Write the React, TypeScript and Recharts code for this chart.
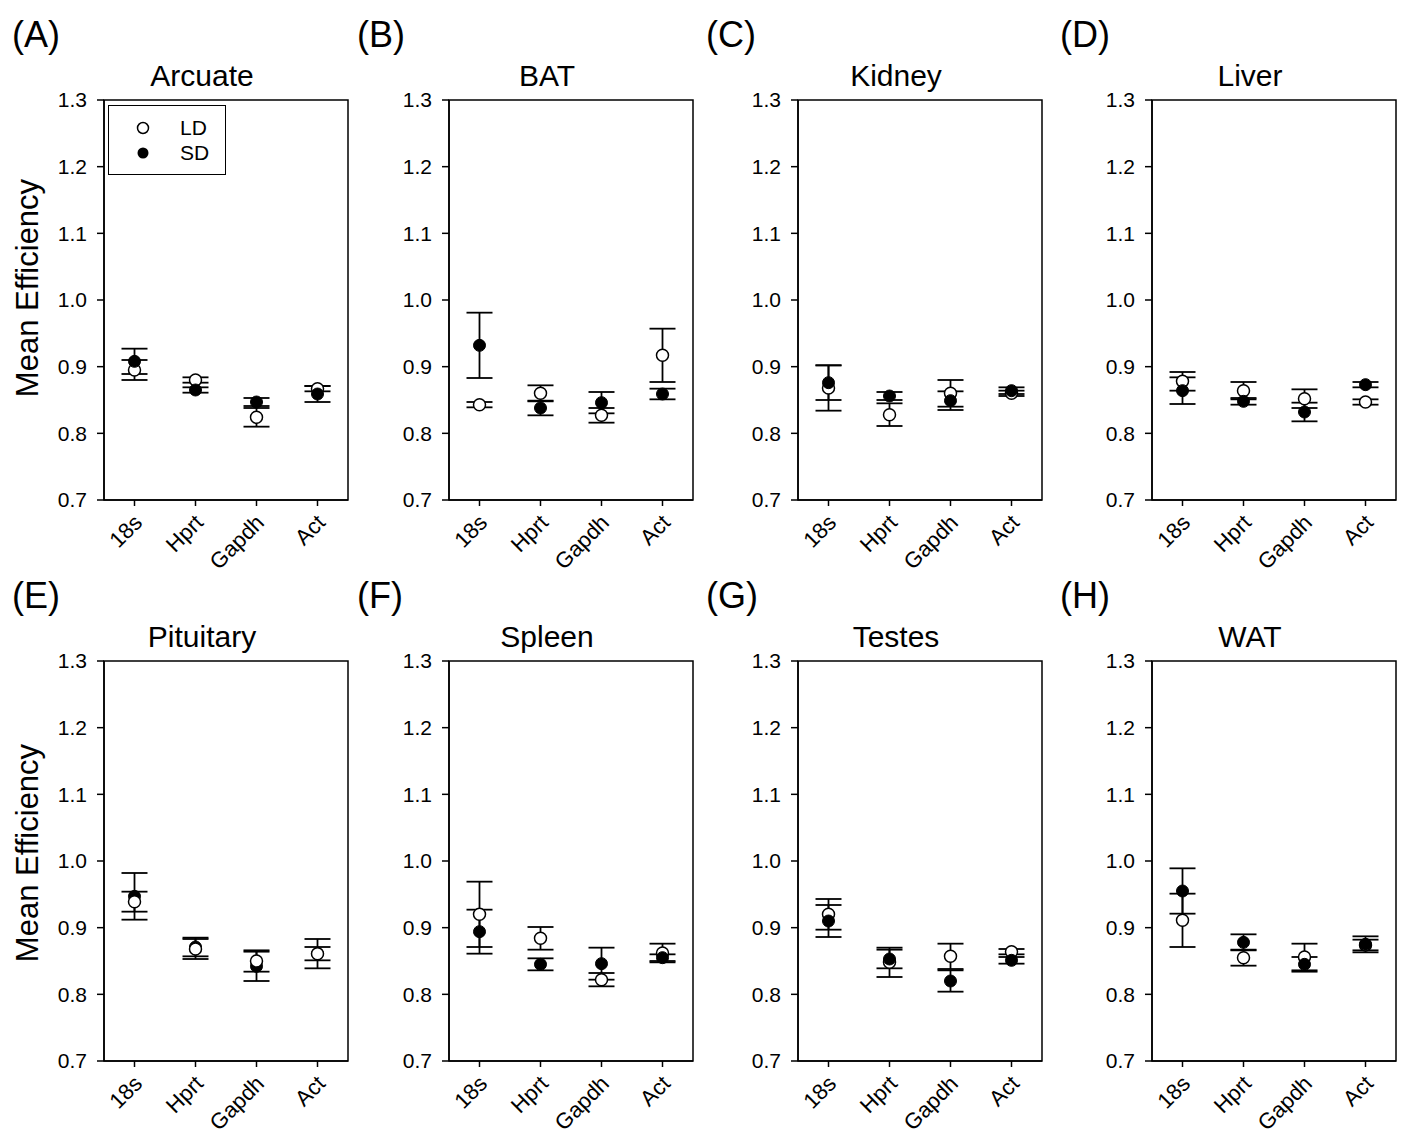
import React from "react";
import {
  ScatterChart,
  Scatter,
  XAxis,
  YAxis,
  ErrorBar,
  ReferenceArea,
} from "recharts";

const genes = ["18s", "Hprt", "Gapdh", "Act"];
const yTicks = [0.7, 0.8, 0.9, 1.0, 1.1, 1.2, 1.3];

// LD = open circles, SD = filled circles
const arcuateLD = [0.895, 0.88, 0.824, 0.867];
const arcuateLDErr = [0.015, 0.004, 0.014, 0.004];
const arcuateSD = [0.908, 0.865, 0.847, 0.859];
const arcuateSDErr = [0.019, 0.004, 0.006, 0.012];

const batLD = [0.843, 0.86, 0.827, 0.917];
const batLDErr = [0.004, 0.012, 0.011, 0.04];
const batSD = [0.932, 0.838, 0.846, 0.859];
const batSDErr = [0.049, 0.011, 0.016, 0.008];

const kidneyLD = [0.868, 0.828, 0.86, 0.86];
const kidneyLDErr = [0.034, 0.017, 0.02, 0.004];
const kidneySD = [0.876, 0.856, 0.849, 0.864];
const kidneySDErr = [0.026, 0.006, 0.014, 0.005];

const liverLD = [0.878, 0.864, 0.852, 0.847];
const liverLDErr = [0.014, 0.013, 0.014, 0.004];
const liverSD = [0.864, 0.848, 0.832, 0.873];
const liverSDErr = [0.02, 0.005, 0.014, 0.004];

const pituitaryLD = [0.939, 0.868, 0.85, 0.861];
const pituitaryLDErr = [0.015, 0.015, 0.016, 0.022];
const pituitarySD = [0.947, 0.871, 0.842, 0.861];
const pituitarySDErr = [0.035, 0.014, 0.022, 0.01];

const spleenLD = [0.92, 0.884, 0.822, 0.862];
const spleenLDErr = [0.049, 0.017, 0.01, 0.014];
const spleenSD = [0.894, 0.845, 0.846, 0.855];
const spleenSDErr = [0.033, 0.009, 0.024, 0.005];

const testesLD = [0.92, 0.848, 0.857, 0.864];
const testesLDErr = [0.023, 0.022, 0.019, 0.004];
const testesSD = [0.91, 0.853, 0.82, 0.851];
const testesSDErr = [0.024, 0.014, 0.016, 0.005];

const watLD = [0.911, 0.855, 0.856, 0.874];
const watLDErr = [0.04, 0.012, 0.02, 0.008];
const watSD = [0.955, 0.878, 0.845, 0.875];
const watSDErr = [0.034, 0.012, 0.011, 0.012];

const FONT = "Arial, 'Liberation Sans', sans-serif";
const PLOT_W = 244;
const PLOT_H = 400;
const X_AXIS_H = 75;

const toPoints = (vals: number[], errs: number[]) =>
  vals.map((v, i) => ({ x: i + 1, y: v, err: errs[i] }));

const openDot = (p: any) => (
  <circle cx={p.cx} cy={p.cy} r={6} fill="#fff" stroke="#000" strokeWidth={1.5} />
);
const filledDot = (p: any) => (
  <circle cx={p.cx} cy={p.cy} r={6} fill="#000" stroke="#000" strokeWidth={1} />
);

const GeneTick = (props: any) => {
  const { x, y, payload } = props;
  const ax = x + 9;
  const ay = y + 16;
  return (
    <text
      x={ax}
      y={ay}
      textAnchor="end"
      fontSize={22}
      fontFamily={FONT}
      fill="#000"
      transform={`rotate(-45, ${ax}, ${ay})`}
    >
      {genes[payload.value - 1]}
    </text>
  );
};

interface PanelProps {
  letter: string;
  title: string;
  plotLeft: number;
  rowTop: number;
  ld: number[];
  ldErr: number[];
  sd: number[];
  sdErr: number[];
  ldOnTop?: boolean;
}

const Panel: React.FC<PanelProps> = ({
  letter,
  title,
  plotLeft,
  rowTop,
  ld,
  ldErr,
  sd,
  sdErr,
  ldOnTop,
}) => {
  const ldSeries = (
    <Scatter
      key="ld"
      name="LD"
      data={toPoints(ld, ldErr)}
      shape={openDot}
      isAnimationActive={false}
    >
      <ErrorBar dataKey="err" direction="y" width={13} stroke="#000" strokeWidth={1.8} isAnimationActive={false} />
    </Scatter>
  );
  const sdSeries = (
    <Scatter
      key="sd"
      name="SD"
      data={toPoints(sd, sdErr)}
      shape={filledDot}
      isAnimationActive={false}
    >
      <ErrorBar dataKey="err" direction="y" width={13} stroke="#000" strokeWidth={1.8} isAnimationActive={false} />
    </Scatter>
  );
  return (
    <>
      <div
        style={{
          position: "absolute",
          left: plotLeft - 92,
          top: rowTop + 12,
          fontSize: 36,
          fontFamily: FONT,
          lineHeight: "46px",
        }}
      >
        {letter}
      </div>
      <div
        style={{
          position: "absolute",
          left: plotLeft + 98 - 100,
          width: 200,
          textAlign: "center",
          top: rowTop + 58,
          fontSize: 30,
          fontFamily: FONT,
          lineHeight: "36px",
        }}
      >
        {title}
      </div>
      <div style={{ position: "absolute", left: plotLeft - 80, top: rowTop }}>
        <ScatterChart
          width={80 + PLOT_W + 10}
          height={100 + PLOT_H + X_AXIS_H}
          margin={{ top: 100, left: 10, right: 10, bottom: 0 }}
          style={{ overflow: "visible" }}
        >
          <XAxis
            type="number"
            dataKey="x"
            domain={[0.5, 4.5]}
            ticks={[1, 2, 3, 4]}
            allowDataOverflow
            height={X_AXIS_H}
            tickSize={6}
            tick={<GeneTick />}
            axisLine={{ stroke: "#000", strokeWidth: 1.5 }}
            tickLine={{ stroke: "#000", strokeWidth: 1.5 }}
          />
          <YAxis
            type="number"
            dataKey="y"
            domain={[0.7, 1.3]}
            ticks={yTicks}
            allowDataOverflow
            width={70}
            tickSize={7}
            tickMargin={10}
            tickFormatter={(v: number) => v.toFixed(1)}
            tick={{ fill: "#000", fontSize: 21, fontFamily: FONT }}
            axisLine={{ stroke: "#000", strokeWidth: 1.5 }}
            tickLine={{ stroke: "#000", strokeWidth: 1.5 }}
          />
          <ReferenceArea
            x1={0.5}
            x2={4.5}
            y1={0.7}
            y2={1.3}
            fill="none"
            fillOpacity={0}
            stroke="#000"
            strokeWidth={1.5}
          />
          {ldOnTop ? [sdSeries, ldSeries] : [ldSeries, sdSeries]}
        </ScatterChart>
      </div>
    </>
  );
};

const YLabel: React.FC<{ cy: number }> = ({ cy }) => (
  <div
    style={{
      position: "absolute",
      left: 28 - 150,
      top: cy - 18,
      width: 300,
      textAlign: "center",
      fontSize: 31,
      fontFamily: FONT,
      lineHeight: "36px",
      transform: "rotate(-90deg)",
    }}
  >
    Mean Efficiency
  </div>
);

const Legend: React.FC = () => (
  <div
    style={{
      position: "absolute",
      left: 108,
      top: 105,
      width: 118,
      height: 70,
      border: "1.5px solid #000",
      boxSizing: "border-box",
      fontFamily: FONT,
      fontSize: 21,
    }}
  >
    <svg width={118} height={70} style={{ position: "absolute", left: -1.5, top: -1.5 }}>
      <circle cx={35} cy={23} r={5.5} fill="#fff" stroke="#000" strokeWidth={1.5} />
      <circle cx={35} cy={48} r={5.5} fill="#000" />
      <text x={72} y={30} fontSize={21} fontFamily={FONT}>LD</text>
      <text x={72} y={55} fontSize={21} fontFamily={FONT}>SD</text>
    </svg>
  </div>
);

const lefts = [104, 449, 798, 1152];

export default function App() {
  return (
    <div
      style={{
        position: "absolute",
        left: 0,
        top: 0,
        width: 1402,
        height: 1138,
        background: "#fff",
        overflow: "hidden",
      }}
    >
      <Panel letter="(A)" title="Arcuate" plotLeft={lefts[0]} rowTop={0} ld={arcuateLD} ldErr={arcuateLDErr} sd={arcuateSD} sdErr={arcuateSDErr} />
      <Panel letter="(B)" title="BAT" plotLeft={lefts[1]} rowTop={0} ld={batLD} ldErr={batLDErr} sd={batSD} sdErr={batSDErr} />
      <Panel letter="(C)" title="Kidney" plotLeft={lefts[2]} rowTop={0} ld={kidneyLD} ldErr={kidneyLDErr} sd={kidneySD} sdErr={kidneySDErr} />
      <Panel letter="(D)" title="Liver" plotLeft={lefts[3]} rowTop={0} ld={liverLD} ldErr={liverLDErr} sd={liverSD} sdErr={liverSDErr} />
      <Panel letter="(E)" title="Pituitary" plotLeft={lefts[0]} rowTop={561} ld={pituitaryLD} ldErr={pituitaryLDErr} sd={pituitarySD} sdErr={pituitarySDErr} ldOnTop />
      <Panel letter="(F)" title="Spleen" plotLeft={lefts[1]} rowTop={561} ld={spleenLD} ldErr={spleenLDErr} sd={spleenSD} sdErr={spleenSDErr} />
      <Panel letter="(G)" title="Testes" plotLeft={lefts[2]} rowTop={561} ld={testesLD} ldErr={testesLDErr} sd={testesSD} sdErr={testesSDErr} />
      <Panel letter="(H)" title="WAT" plotLeft={lefts[3]} rowTop={561} ld={watLD} ldErr={watLDErr} sd={watSD} sdErr={watSDErr} />
      <YLabel cy={288} />
      <YLabel cy={853} />
      <Legend />
    </div>
  );
}
